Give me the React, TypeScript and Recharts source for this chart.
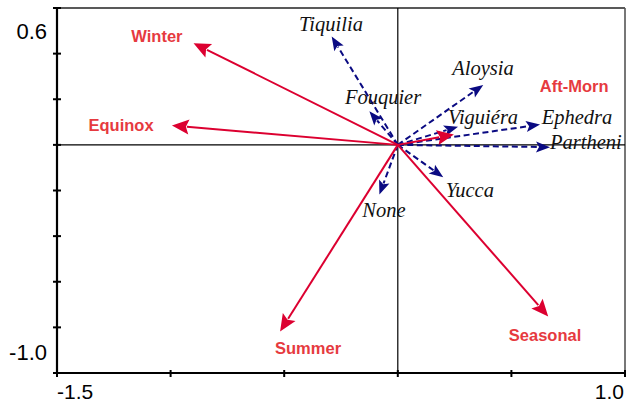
import React from 'react';
import { ScatterChart, Scatter, XAxis, YAxis, ReferenceLine, ReferenceDot } from 'recharts';

// Environmental vectors (red, solid)
const envNames = ['Winter', 'Equinox', 'Aft-Morn', 'Summer', 'Seasonal'];
const envX = [-0.899, -0.994, 0.247, -0.518, 0.662];
const envY = [0.446, 0.085, 0.045, -0.818, -0.752];
const envLabelX = [-1.06, -1.218, 0.776, -0.395, 0.648];
const envLabelY = [0.479, 0.089, 0.256, -0.889, -0.832];

// Plant vectors (blue, dashed)
const plantNames = ['Tiquilia', 'Fouquier', 'Aloysia', 'Viguiéra', 'Ephedra', 'Partheni', 'Yucca', 'None'];
const plantX = [-0.291, -0.125, 0.376, 0.265, 0.626, 0.67, 0.2, -0.081];
const plantY = [0.475, 0.147, 0.263, 0.08, 0.089, -0.01, -0.142, -0.218];
const plantLabelX = [-0.294, -0.065, 0.375, 0.375, 0.789, 0.828, 0.317, -0.061];
const plantLabelY = [0.528, 0.207, 0.335, 0.12, 0.12, 0.01, -0.2, -0.288];

const xTicks = [-1.5, -1.0, -0.5, 0, 0.5, 1.0];
const yTicks = [-1.0, -0.8, -0.6, -0.4, -0.2, 0, 0.2, 0.4, 0.6];
const xTickLabels: Record<string, string> = { '-1.5': '-1.5', '1': '1.0' };
const yTickLabels: Record<string, string> = { '0.6': '0.6', '-1': '-1.0' };

const RED = '#dc0030';
const RED_TEXT = '#e63a3f';
const BLUE = '#0a0a82';
const SANS = '"Liberation Sans", Arial, sans-serif';
const SERIF = '"Liberation Serif", "Times New Roman", serif';

const tips = [
  ...envNames.map((n, i) => ({ name: n, x: envX[i], y: envY[i] })),
  ...plantNames.map((n, i) => ({ name: n, x: plantX[i], y: plantY[i] })),
];

const makeArrow = (color: string, dashed: boolean, headLen: number, headHalf: number) => (p: any) => {
  const { x1, y1, x2, y2 } = p;
  const dx = x2 - x1;
  const dy = y2 - y1;
  const len = Math.hypot(dx, dy) || 1;
  const ux = dx / len;
  const uy = dy / len;
  const bx = x2 - ux * headLen;
  const by = y2 - uy * headLen;
  const px = -uy;
  const py = ux;
  return (
    <g>
      <line
        x1={x1}
        y1={y1}
        x2={bx + ux * 2}
        y2={by + uy * 2}
        stroke={color}
        strokeWidth={2}
        strokeDasharray={dashed ? '6 3.5' : undefined}
      />
      <polygon
        points={`${x2},${y2} ${bx + px * headHalf},${by + py * headHalf} ${bx + ux * 3},${by + uy * 3} ${bx - px * headHalf},${by - py * headHalf}`}
        fill={color}
      />
    </g>
  );
};

const redArrow = makeArrow(RED, false, 17, 7.5);
const blueArrow = makeArrow(BLUE, true, 14, 5.5);

const XTick = (props: any) => {
  const { x, y, payload } = props;
  const key = String(payload.value);
  const label = xTickLabels[key];
  const isLast = payload.value === 1;
  return (
    <g>
      <line x1={x} y1={y - 3} x2={x} y2={y + 4} stroke="#000" strokeWidth={2} />
      {label ? (
        <text
          x={isLast ? x - 1 : x}
          y={y + 18}
          dy="0.36em"
          textAnchor={isLast ? 'end' : 'start'}
          fontFamily={SANS}
          fontSize={21}
          fill="#000"
        >
          {label}
        </text>
      ) : null}
    </g>
  );
};

const YTick = (props: any) => {
  const { x, y, payload } = props;
  const key = String(payload.value);
  const label = yTickLabels[key];
  const isTop = payload.value === 0.6;
  return (
    <g>
      <line x1={x - 4} y1={y} x2={x + 4} y2={y} stroke="#000" strokeWidth={2} />
      {label ? (
        <text
          x={x - 10}
          y={isTop ? y + 23 : y - 21}
          dy="0.36em"
          textAnchor="end"
          fontFamily={SANS}
          fontSize={22}
          fill="#000"
        >
          {label}
        </text>
      ) : null}
    </g>
  );
};

const makeLabel = (text: string, kind: 'env' | 'plant') => (p: any) => {
  const { cx, cy } = p;
  if (kind === 'env') {
    return (
      <text x={cx} y={cy} dy="0.36em" textAnchor="middle" fontFamily={SANS} fontWeight="bold" fontSize={16.5} fill={RED_TEXT}>
        {text}
      </text>
    );
  }
  return (
    <text x={cx} y={cy} dy="0.33em" textAnchor="middle" fontFamily={SERIF} fontStyle="italic" fontSize={20.5} fill="#111">
      {text}
    </text>
  );
};

export default function App() {
  return (
    <div style={{ width: 626, height: 404 }}>
      <style>{'body{margin:0}'}</style>
      <ScatterChart width={626} height={404} margin={{ top: 8, right: 1, bottom: 0, left: 0 }}>
        <XAxis
          type="number"
          dataKey="x"
          domain={[-1.5, 1.0]}
          ticks={xTicks}
          allowDataOverflow
          height={31}
          tickSize={0}
          tickMargin={0}
          tickLine={false}
          axisLine={{ stroke: '#000', strokeWidth: 2.2 }}
          tick={<XTick />}
          interval={0}
        />
        <YAxis
          type="number"
          dataKey="y"
          domain={[-1.0, 0.6]}
          ticks={yTicks}
          allowDataOverflow
          width={57}
          tickSize={0}
          tickMargin={0}
          tickLine={false}
          axisLine={{ stroke: '#000', strokeWidth: 2.2 }}
          tick={<YTick />}
          interval={0}
        />
        <ReferenceLine y={0.6} stroke="#222" strokeWidth={1.6} />
        <ReferenceLine x={1.0} stroke="#555" strokeWidth={1.6} />
        <ReferenceLine y={0} stroke="#000" strokeWidth={1.2} />
        <ReferenceLine x={0} stroke="#000" strokeWidth={1.2} />
        <Scatter data={tips} fill="none" shape={() => <g />} isAnimationActive={false} />
        {plantNames.map((n, i) => (
          <ReferenceLine
            key={'p' + n}
            segment={[{ x: 0, y: 0 }, { x: plantX[i], y: plantY[i] }]}
            shape={blueArrow}
          />
        ))}
        {envNames.map((n, i) => (
          <ReferenceLine
            key={'e' + n}
            segment={[{ x: 0, y: 0 }, { x: envX[i], y: envY[i] }]}
            shape={redArrow}
          />
        ))}
        {plantNames.map((n, i) => (
          <ReferenceDot key={'pl' + n} x={plantLabelX[i]} y={plantLabelY[i]} r={0} shape={makeLabel(n, 'plant')} />
        ))}
        {envNames.map((n, i) => (
          <ReferenceDot key={'el' + n} x={envLabelX[i]} y={envLabelY[i]} r={0} shape={makeLabel(n, 'env')} />
        ))}
      </ScatterChart>
    </div>
  );
}
